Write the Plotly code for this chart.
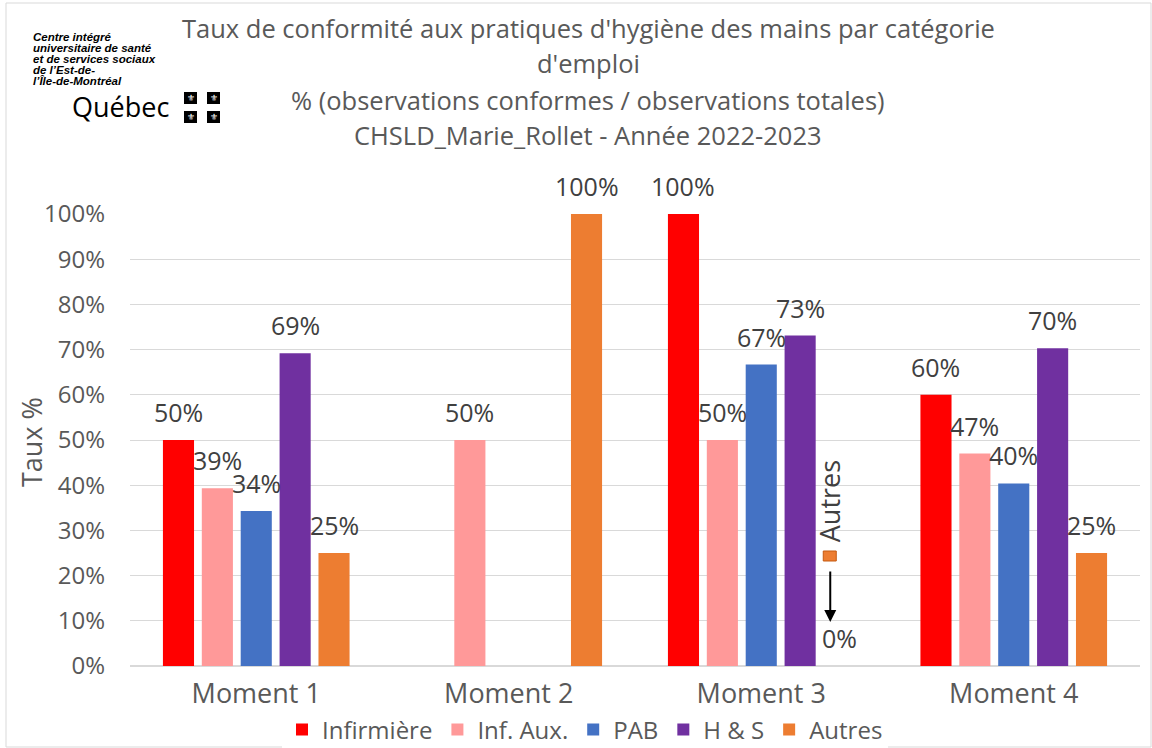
import plotly.graph_objects as go

# ---------------- data ----------------
categories = ["Moment 1", "Moment 2", "Moment 3", "Moment 4"]
infirmiere = [0.50, None, 1.00, 0.60]
inf_aux = [0.393, 0.50, 0.50, 0.47]
pab = [0.343, None, 0.667, 0.404]
h_s = [0.692, None, 0.731, 0.703]
autres = [0.25, 1.00, 0.0, 0.25]

series_names = ["Infirmière", "Inf. Aux.", "PAB", "H & S", "Autres"]
series_values = [infirmiere, inf_aux, pab, h_s, autres]
series_colors = ["#FF0000", "#FF9999", "#4472C4", "#7030A0", "#ED7D31"]

title_lines = [
    "Taux de conformité aux pratiques d'hygiène des mains par catégorie",
    "d'emploi",
    "% (observations conformes / observations totales)",
    "CHSLD_Marie_Rollet - Année 2022-2023",
]
logo_lines = [
    "Centre intégré",
    "universitaire de santé",
    "et de services sociaux",
    "de l’Est-de-",
    "l’Île-de-Montréal",
]
y_ticks = [0, 0.1, 0.2, 0.3, 0.4, 0.5, 0.6, 0.7, 0.8, 0.9, 1.0]

# ---------------- geometry helpers ----------------
W, H = 1152, 748
L, R, T, B = 130, 1140, 214, 666  # plot area in pixels
BARGAP = 0.23


def px(x):
    return (x - L) / (R - L)


def py(y):
    return (B - y) / (B - T)


FONT = "Open Sans"
GRAY = "#595959"
DARK = "#404040"

fig = go.Figure()
n_series = len(series_names)
slot = (1 - BARGAP) / n_series
for i, (name, vals, col) in enumerate(zip(series_names, series_values, series_colors)):
    fig.add_trace(go.Bar(
        name=name, x=categories, y=vals, marker_color=col,
        marker_line_width=0, cliponaxis=False,
    ))
    # data labels, placed above each bar through the axes
    for ci, v in enumerate(vals):
        if v is None:
            continue
        fig.add_annotation(
            x=ci + (i - (n_series - 1) / 2) * slot, y=v, xref="x", yref="y",
            text=f"{v:.0%}", showarrow=False, yshift=28,
            xanchor="center", yanchor="middle",
            font=dict(family=FONT, size=25, color=DARK))

fig.update_layout(
    width=W, height=H,
    margin=dict(l=L, r=W - R, t=T, b=H - B, autoexpand=False),
    paper_bgcolor="white", plot_bgcolor="white",
    barmode="group", bargap=BARGAP, bargroupgap=0.2,
    font=dict(family=FONT, color=GRAY),
    showlegend=True,
    legend=dict(orientation="h", x=px(585), xanchor="center",
                y=py(730), yanchor="middle",
                font=dict(family=FONT, size=24, color=GRAY),
                itemwidth=30, traceorder="normal"),
)
fig.update_xaxes(showgrid=False, showline=True, linecolor="#D9D9D9",
                 linewidth=1, tickfont=dict(family=FONT, size=27, color=GRAY),
                 ticks="", fixedrange=True, ticklabelstandoff=4)
fig.update_yaxes(range=[0, 1.0], tickvals=y_ticks, tickformat=".0%",
                 showgrid=True, gridcolor="#D9D9D9", gridwidth=1,
                 zeroline=True, zerolinecolor="#D9D9D9",
                 tickfont=dict(family=FONT, size=24, color=GRAY),
                 ticklabelstandoff=24, ticks="", fixedrange=True)

# title lines
title_y = [28, 63, 100, 135]
for txt, yy in zip(title_lines, title_y):
    fig.add_annotation(text=txt, xref="paper", yref="paper",
                       x=px(588), y=py(yy), xanchor="center", yanchor="middle",
                       showarrow=False,
                       font=dict(family=FONT, size=25.5, color=GRAY))

# y-axis title
fig.add_annotation(text="Taux %", xref="paper", yref="paper",
                   x=px(31), y=py(442), textangle=-90, showarrow=False,
                   xanchor="center", yanchor="middle",
                   font=dict(family=FONT, size=27, color=GRAY))

# logo text
logo_y = [37, 48, 59, 70, 81]
for txt, yy in zip(logo_lines, logo_y):
    fig.add_annotation(text="<b><i>" + txt + "</i></b>", xref="paper", yref="paper",
                       x=px(32), y=py(yy), xanchor="left", yanchor="middle",
                       showarrow=False, borderpad=0,
                       font=dict(family="Liberation Sans", size=11.5, color="black"))
fig.add_annotation(text="Québec", xref="paper", yref="paper",
                   x=px(71), y=py(107), xanchor="left", yanchor="middle",
                   showarrow=False, borderpad=0,
                   font=dict(family=FONT, size=27, color="black"))
for (x0, x1) in [(184, 197), (207, 220)]:
    for (y0, y1) in [(92, 104), (111, 123)]:
        fig.add_shape(type="rect", xref="paper", yref="paper",
                      x0=px(x0), x1=px(x1), y0=py(y1), y1=py(y0),
                      fillcolor="black", line_width=0)
        fig.add_annotation(text="⚜", xref="paper", yref="paper",
                           x=px((x0 + x1) / 2), y=py((y0 + y1) / 2),
                           showarrow=False, xanchor="center", yanchor="middle",
                           font=dict(family="DejaVu Sans", size=9, color="white"))

# "Autres" callout for Moment 3 (value 0)
cx = 2 + (831 - 763) / 252.5
fig.add_annotation(text="Autres", x=cx, y=py(501), xref="x", yref="paper",
                   textangle=-90, showarrow=False, xanchor="center", yanchor="middle",
                   font=dict(family=FONT, size=27, color=DARK))
fig.add_shape(type="rect", xref="x", yref="paper",
              x0=2 + (825 - 763) / 252.5, x1=2 + (838 - 763) / 252.5,
              y0=py(561), y1=py(551),
              fillcolor="#ED7D31", line=dict(color="#C55A11", width=1))
fig.add_annotation(text="", x=2 + (832 - 763) / 252.5, y=py(622),
                   xref="x", yref="paper", showarrow=True,
                   ax=0, ay=-52, arrowhead=2, arrowsize=1.2, arrowwidth=2,
                   arrowcolor="black")

# outer border
fig.add_shape(type="rect", xref="paper", yref="paper",
              x0=px(6), x1=px(1151), y0=py(747), y1=py(3),
              line=dict(color="#D9D9D9", width=1), fillcolor="rgba(0,0,0,0)",
              layer="below")

fig.write_html("out.html", config={"displayModeBar": False},
               post_script="document.body.style.margin='0px';document.body.style.overflow='hidden';")
